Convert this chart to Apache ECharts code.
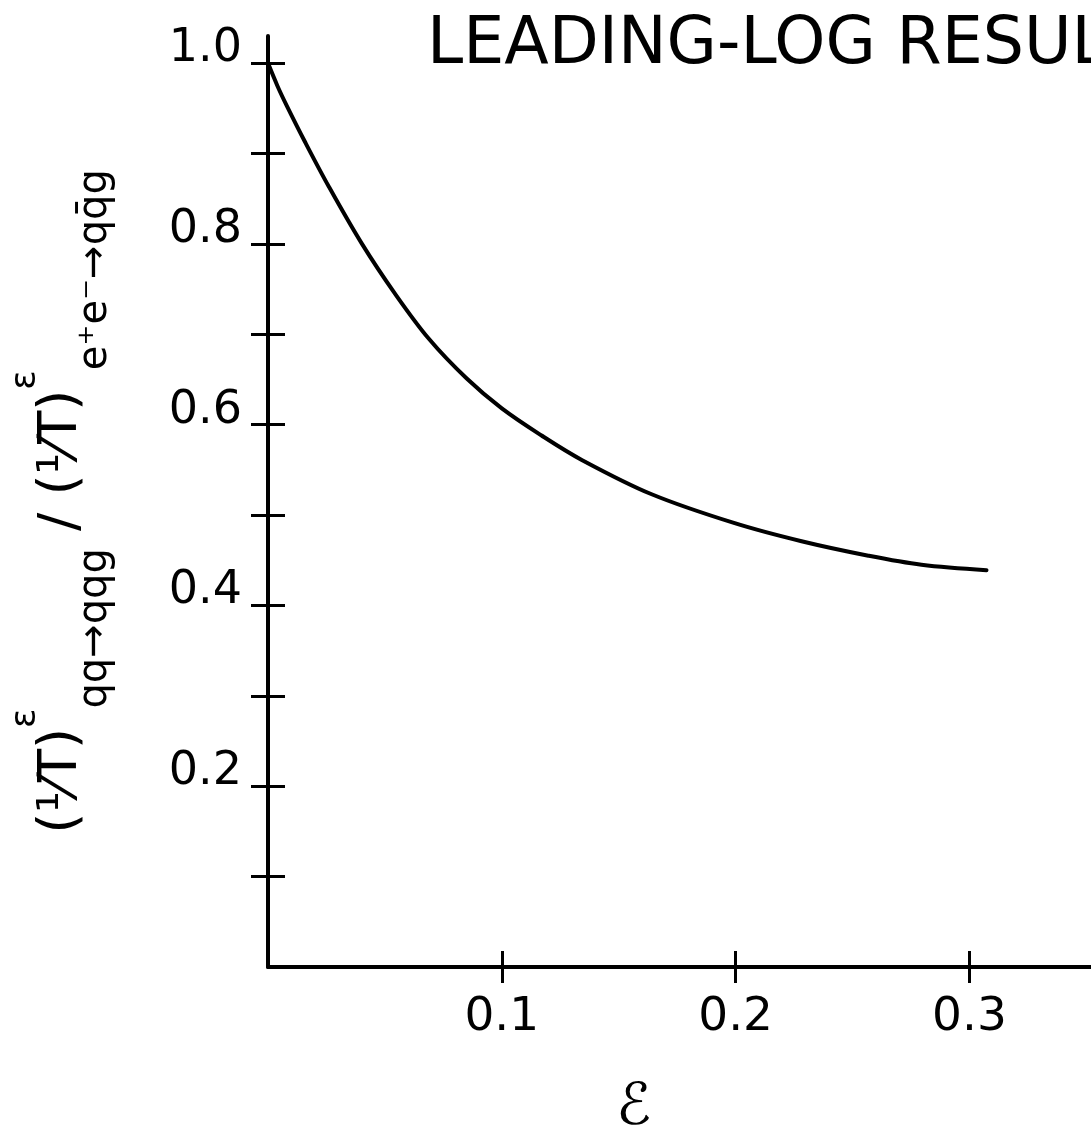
<!DOCTYPE html>
<html>
<head>
<meta charset="utf-8">
<title>Leading-log results</title>
<script src="https://cdn.jsdelivr.net/npm/echarts@6/dist/echarts.min.js"></script>
<style>
  html, body { margin: 0; padding: 0; background: #ffffff; }
  #chart { width: 1091px; height: 1139px; }
</style>
</head>
<body>
<div id="chart"></div>
<script>
// Ratio of thrust-moment ratios vs. epsilon (leading-log calculation)
const epsilonValues = [0, 0.004, 0.008, 0.0158, 0.0261, 0.0402, 0.0543, 0.0688, 0.085, 0.1, 0.117, 0.1342, 0.1641, 0.1996, 0.2282, 0.2568, 0.2795, 0.3073];
const ratioValues   = [1.0, 0.975, 0.953, 0.913, 0.863, 0.800, 0.745, 0.695, 0.651, 0.618, 0.588, 0.561, 0.523, 0.491, 0.471, 0.455, 0.445, 0.439];

const xTickValues = [0.1, 0.2, 0.3];
const yTickValues = [0.1, 0.2, 0.3, 0.4, 0.5, 0.6, 0.7, 0.8, 0.9, 1.0];
const yLabelValues = [0.2, 0.4, 0.6, 0.8, 1.0];

const titleText = 'LEADING-LOG RESULTS';
const xName = 'ℰ';

const FONT = '"DejaVu Sans", "Noto Sans", sans-serif';
const INK = '#000000';

const chart = echarts.init(document.getElementById('chart'), null, { renderer: 'canvas' });

const points = epsilonValues.map((e, i) => [e, ratioValues[i]]);

const yName =
  '{m|(¹⁄T)}{sup|ε}{sub|qq→qqg}{m| / (¹⁄T)}{sup|ε}{sub|e⁺e⁻→qq̄g}';

const option = {
  backgroundColor: '#ffffff',
  animation: false,
  title: {
    text: titleText,
    left: 422,
    top: 9,
    textStyle: { fontFamily: FONT, fontSize: 65, fontWeight: 'normal', color: INK }
  },
  grid: { left: 268, right: 0, top: 36, bottom: 172, containLabel: false },
  xAxis: [
    {
      type: 'value', min: 0, max: 0.352, position: 'bottom',
      axisLine: { show: true, lineStyle: { color: INK, width: 4 } },
      axisTick: { show: true, customValues: xTickValues, length: 16, inside: false, lineStyle: { color: INK, width: 3 } },
      axisLabel: {
        show: true, customValues: xTickValues, margin: 27,
        fontFamily: FONT, fontSize: 47, color: INK,
        formatter: v => v.toFixed(1)
      },
      splitLine: { show: false }
    },
    {
      type: 'value', min: 0, max: 0.352, position: 'bottom', gridIndex: 0,
      axisLine: { show: false },
      axisTick: { show: true, customValues: xTickValues, length: 16, inside: true, lineStyle: { color: INK, width: 3 } },
      axisLabel: { show: false },
      splitLine: { show: false }
    }
  ],
  yAxis: [
    {
      type: 'value', min: 0, max: 1.03, position: 'left',
      axisLine: { show: true, lineStyle: { color: INK, width: 4 } },
      axisTick: { show: true, customValues: yTickValues, length: 17, inside: false, lineStyle: { color: INK, width: 3 } },
      axisLabel: {
        show: true, customValues: yLabelValues, margin: 26,
        fontFamily: FONT, fontSize: 46, color: INK,
        formatter: v => '{n|' + v.toFixed(1) + '}',
        rich: { n: { fontFamily: FONT, fontSize: 46, color: INK, padding: [0, 0, 28, 0] } }
      },
      splitLine: { show: false },
      name: yName,
      nameLocation: 'middle',
      nameRotate: 90,
      nameGap: 152,
      nameMoveOverlap: false,
      nameTextStyle: {
        fontFamily: FONT, color: INK,
        rich: {
          m:   { fontFamily: FONT, fontSize: 54, color: INK, lineHeight: 108, verticalAlign: 'middle' },
          sup: { fontFamily: FONT, fontSize: 36, color: INK, lineHeight: 38, verticalAlign: 'top' },
          sub: { fontFamily: FONT, fontSize: 40, color: INK, lineHeight: 46, verticalAlign: 'bottom' }
        }
      }
    },
    {
      type: 'value', min: 0, max: 1.03, position: 'left', gridIndex: 0,
      axisLine: { show: false },
      axisTick: { show: true, customValues: yTickValues, length: 17, inside: true, lineStyle: { color: INK, width: 3 } },
      axisLabel: { show: false },
      splitLine: { show: false }
    }
  ],
  graphic: [
    {
      type: 'text',
      left: 616,
      top: 1080,
      style: { text: xName, fontFamily: FONT, fontSize: 58, fill: INK }
    }
  ],
  series: [
    {
      type: 'line',
      data: points,
      xAxisIndex: 0,
      yAxisIndex: 0,
      smooth: 0.35,
      showSymbol: false,
      symbol: 'none',
      lineStyle: { color: INK, width: 4, cap: 'round', join: 'round' },
      silent: true
    }
  ]
};

chart.setOption(option);
</script>
</body>
</html>
